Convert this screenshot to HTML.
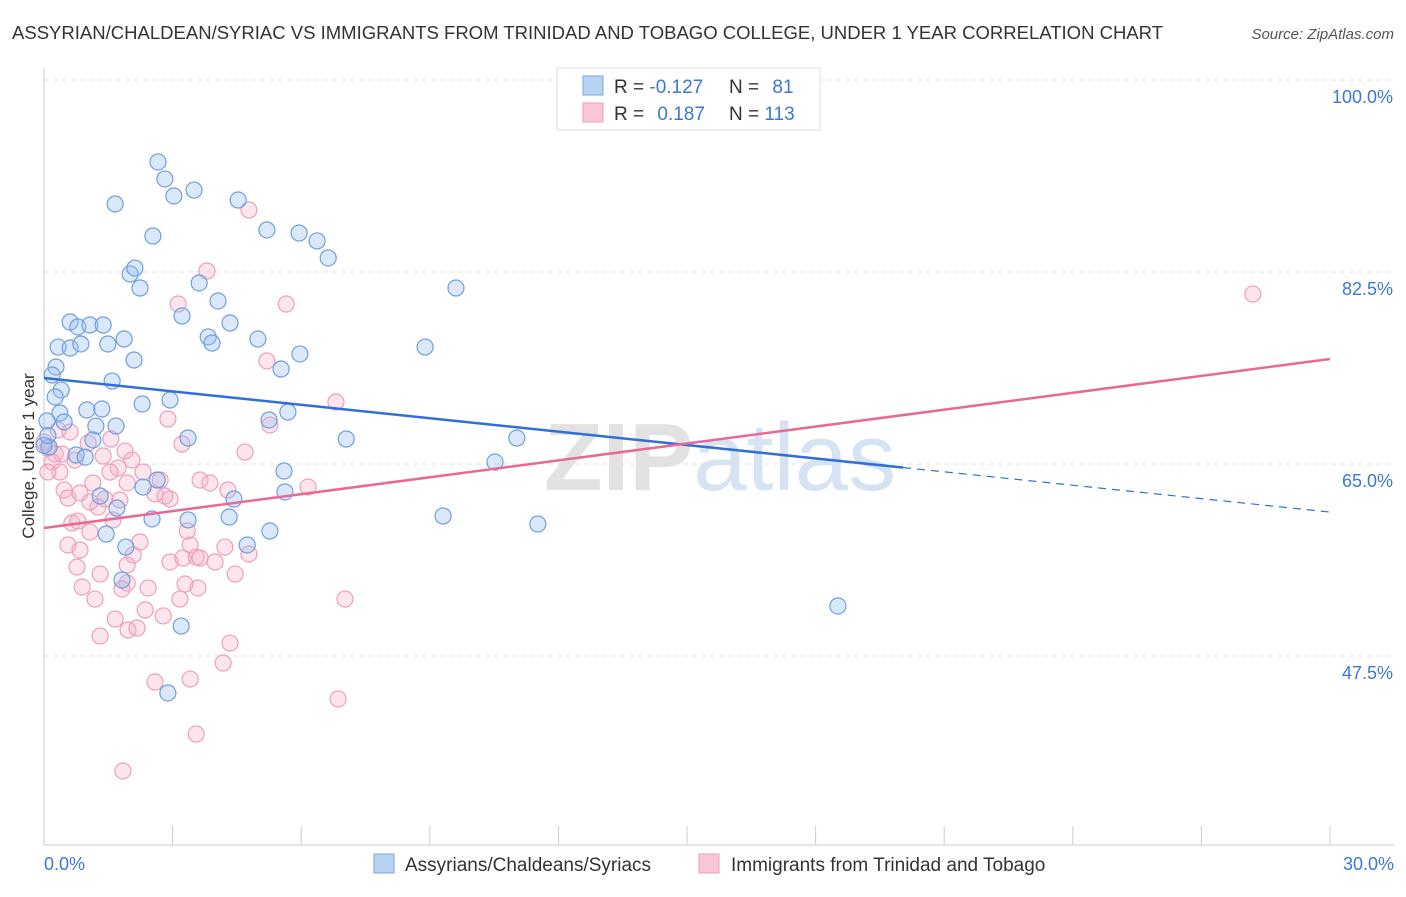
<!DOCTYPE html>
<html><head><meta charset="utf-8"><style>
body{margin:0;background:#fff;font-family:"Liberation Sans",sans-serif;}
svg text{font-family:"Liberation Sans",sans-serif;}
</style></head><body>
<svg id="chart" width="1406" height="892" xmlns="http://www.w3.org/2000/svg">
<text x="12" y="39" font-size="18" fill="#333" textLength="1151" lengthAdjust="spacingAndGlyphs">ASSYRIAN/CHALDEAN/SYRIAC VS IMMIGRANTS FROM TRINIDAD AND TOBAGO COLLEGE, UNDER 1 YEAR CORRELATION CHART</text>
<text x="1394" y="39" font-size="15" fill="#555" font-style="italic" text-anchor="end">Source: ZipAtlas.com</text>
<text x="720" y="490" font-size="96" text-anchor="middle" fill="#e2e2e2" font-family="Liberation Serif"><tspan font-weight="bold">ZIP</tspan><tspan fill="#d5e3f3" font-family="Liberation Sans">atlas</tspan></text>
<g id="grid"></g>
<g id="axes"></g>
<g id="pts"></g>
<g id="trends"></g>
<text transform="translate(34,456) rotate(-90)" font-size="17" fill="#333" text-anchor="middle">College, Under 1 year</text>
<g>
<rect x="557" y="68" width="263" height="62" fill="#fff" stroke="#ddd"/>
<rect x="583" y="76" width="20" height="19" fill="#b8d2f4" stroke="#7aa6e0"/>
<rect x="583" y="103" width="20" height="19" fill="#f9c6d6" stroke="#ee9fba"/>
<text x="614" y="93" font-size="19" fill="#333">R = <tspan fill="#3b78d8">-0.127</tspan></text>
<text x="729" y="93" font-size="19" fill="#333">N = <tspan fill="#3b78d8" dx="8">81</tspan></text>
<text x="614" y="120" font-size="19" fill="#333">R = <tspan fill="#3b78d8" dx="8">0.187</tspan></text>
<text x="729" y="120" font-size="19" fill="#333">N = <tspan fill="#3b78d8">113</tspan></text>
</g>
<g>
<rect x="374" y="854" width="20" height="19" fill="#b8d2f4" stroke="#7aa6e0"/>
<text x="405" y="871" font-size="19" fill="#333">Assyrians/Chaldeans/Syriacs</text>
<rect x="699" y="854" width="20" height="19" fill="#f9c6d6" stroke="#ee9fba"/>
<text x="731" y="871" font-size="19" fill="#333">Immigrants from Trinidad and Tobago</text>
</g>
</svg>
<script>
const xTicks=[0,3,6,9,12,15,18,21,24,27,30];
const yTicks=[47.5,65,82.5,100];
const yTickLabels=["47.5%","65.0%","82.5%","100.0%"];
const xEndLabels=["0.0%","30.0%"];
const blueX=[2.66,2.82,3.03,3.50,1.66,4.53,2.54,5.20,5.95,6.37,6.63,2.01,2.12,2.24,3.62,4.06,9.61,0.61,0.79,1.07,1.38,3.22,4.34,3.83,3.92,4.99,5.97,5.53,8.89,0.33,0.61,0.86,1.49,1.87,2.10,0.28,0.19,0.40,1.59,0.26,2.94,2.29,0.37,1.00,1.35,5.69,5.25,0.07,0.47,1.21,1.68,1.14,3.36,7.05,11.03,0.12,0.75,0.96,10.52,5.60,2.64,2.31,5.62,1.31,4.43,1.70,2.52,3.36,4.32,9.31,11.52,5.27,1.45,1.91,4.74,1.82,18.52,3.20,2.89,0.0,0.09];
const blueY=[92.53,90.98,89.43,89.97,88.70,89.06,85.78,86.33,86.05,85.33,83.78,82.32,82.86,81.04,81.50,79.86,81.04,77.94,77.49,77.67,77.67,78.49,77.85,76.58,76.03,76.39,75.03,73.66,75.66,75.66,75.57,75.94,75.94,76.39,74.48,73.84,73.11,71.74,72.56,71.11,70.83,70.47,69.65,69.92,70.01,69.74,69.01,68.92,68.83,68.46,68.46,67.19,67.37,67.28,67.37,66.55,65.82,65.63,65.18,64.36,63.54,62.90,62.45,62.08,61.81,60.99,59.99,59.90,60.17,60.26,59.53,58.89,58.62,57.43,57.62,54.43,52.06,50.23,44.13,66.7,67.6];
const pinkX=[4.78,3.80,3.13,5.65,28.20,5.20,6.81,2.89,5.27,3.22,4.69,0.00,0.09,0.26,0.61,0.19,0.37,0.72,1.03,1.38,1.56,1.73,1.89,2.05,0.47,0.56,0.84,1.14,1.42,1.77,1.94,2.31,2.71,2.82,2.94,3.64,3.87,4.29,6.16,0.65,0.79,1.26,1.61,1.07,0.56,0.84,2.08,3.34,3.41,3.24,3.55,3.64,4.22,4.78,0.77,1.31,1.94,2.43,0.89,1.19,1.94,1.82,3.29,3.59,3.17,4.46,7.02,1.66,2.36,2.78,1.96,2.17,1.31,4.34,4.18,2.59,3.41,6.86,3.55,1.84,0.33,0.09,1.07,0.42,1.54,2.59,2.94,3.99,2.24];
const pinkY=[88.15,82.59,79.58,79.58,80.49,74.39,70.65,69.10,68.55,66.82,66.09,67.00,66.46,65.91,67.92,65.18,64.27,65.36,66.91,65.73,67.28,64.64,66.18,65.36,62.63,61.90,62.36,63.27,61.81,61.72,63.27,64.27,63.54,62.08,61.81,63.54,63.27,62.63,62.90,59.62,59.80,61.08,59.90,58.80,57.62,57.16,56.71,58.89,57.62,56.43,56.52,56.43,57.43,56.80,55.61,54.97,55.79,53.70,53.79,52.69,54.15,53.61,54.06,53.70,52.69,54.97,52.69,50.87,51.69,51.15,49.87,50.05,49.32,48.68,46.86,45.13,45.40,43.58,40.39,37.02,68.10,64.27,61.54,65.91,64.27,62.27,56.07,56.07,57.89];
const blueTrend=[72.84,60.62];
const pinkTrend=[59.17,74.57];
const blueSolidEnd=20.04;

const X0=44,X1=1330,Y100=80,PXPER=192/17.5;
const sx=v=>X0+(v-0)/30*(X1-X0);
const sy=v=>Y100+(100-v)*PXPER;
const NS="http://www.w3.org/2000/svg";
function mk(tag,attrs,parent){const e=document.createElementNS(NS,tag);for(const k in attrs)e.setAttribute(k,attrs[k]);parent.appendChild(e);return e;}
const grid=document.getElementById('grid'),axes=document.getElementById('axes');
yTicks.forEach((t,i)=>{
  const g=mk('line',{x1:X0,x2:1394,y1:sy(t),y2:sy(t),stroke:'#e2e2e2','stroke-dasharray':'5,4'},grid);
  
  
  const tx=mk('text',{x:1393,y:sy(t)+23,'font-size':18,fill:'#3b78d8','text-anchor':'end'},axes);
  tx.textContent=yTickLabels[i];
  
  
});
const ya=mk('line',{x1:X0,x2:X0,y1:68,y2:845,stroke:'#ccc'},axes);


const xa=mk('line',{x1:X0,x2:1394,y1:845,y2:845,stroke:'#ccc'},axes);


xTicks.forEach(t=>{
  const l=mk('line',{x1:sx(t),x2:sx(t),y1:826,y2:845,stroke:'#ccc'},axes);
  
  
});
[[0,'start',44],[30,'end',1394]].forEach((a,i)=>{
  const tx=mk('text',{x:a[2],y:870,'font-size':18,fill:'#3b78d8','text-anchor':a[1]},axes);
  tx.textContent=xEndLabels[i];
  
  
});
const pts=document.getElementById('pts');
pinkX.forEach((x,i)=>{
  const c=mk('circle',{cx:sx(x),cy:sy(pinkY[i]),r:8,fill:'rgba(244,170,196,0.3)',stroke:'#ee9fba','stroke-width':1.2},pts);
  
  
});
blueX.forEach((x,i)=>{
  const c=mk('circle',{cx:sx(x),cy:sy(blueY[i]),r:8,fill:'rgba(150,190,240,0.35)',stroke:'#6f9fdf','stroke-width':1.2},pts);
  
  
});
const tr=document.getElementById('trends');
const bAt=x=>blueTrend[0]+(blueTrend[1]-blueTrend[0])*x/30;
const l1=mk('line',{x1:sx(0),y1:sy(bAt(0)),x2:sx(blueSolidEnd),y2:sy(bAt(blueSolidEnd)),stroke:'#2f6fd6','stroke-width':2.5},tr);


const l2=mk('line',{x1:sx(blueSolidEnd),y1:sy(bAt(blueSolidEnd)),x2:sx(30),y2:sy(bAt(30)),stroke:'#2f6fd6','stroke-width':1.2,'stroke-dasharray':'8,6'},tr);


const l3=mk('line',{x1:sx(0),y1:sy(pinkTrend[0]),x2:sx(30),y2:sy(pinkTrend[1]),stroke:'#e66a95','stroke-width':2.5},tr);


</script>
</body></html>
